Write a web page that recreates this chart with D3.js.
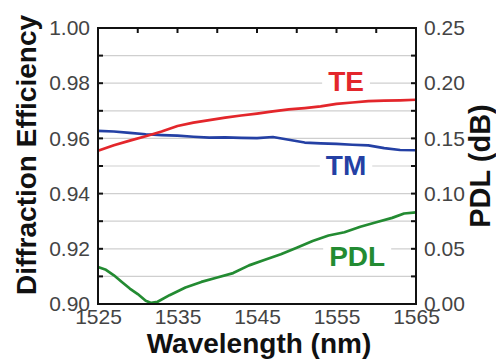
<!DOCTYPE html>
<html>
<head>
<meta charset="utf-8">
<script src="https://cdn.jsdelivr.net/npm/d3@7"></script>
<style>
	body { margin: 0; background: #fff; }
	text { font-family: "Liberation Sans", Arial, sans-serif; }
</style>
</head>
<body>
<svg id="svg_plot" width="496" height="360"></svg>
<script>
// wavelength (nm) and read-off values
const te_wl  = [1525, 1527, 1529, 1531, 1533, 1535, 1537, 1539, 1541, 1543, 1545, 1547, 1549, 1551, 1553, 1555, 1557, 1559, 1561, 1563, 1565];
const te_val = [0.9555, 0.9575, 0.9592, 0.9608, 0.9625, 0.9645, 0.9657, 0.9666, 0.9675, 0.9683, 0.9690, 0.9698, 0.9705, 0.9710, 0.9716, 0.9725, 0.9730, 0.9735, 0.9737, 0.9738, 0.9740];

const tm_wl  = [1525, 1527, 1529, 1531, 1533, 1535, 1537, 1539, 1541, 1543, 1545, 1547, 1549, 1551, 1553, 1555, 1557, 1559, 1561, 1563, 1565];
const tm_val = [0.9627, 0.9625, 0.9620, 0.9615, 0.9612, 0.9610, 0.9606, 0.9603, 0.9604, 0.9602, 0.9601, 0.9605, 0.9595, 0.9585, 0.9582, 0.9580, 0.9577, 0.9575, 0.9565, 0.9558, 0.9557];

const pdl_wl  = [1525, 1526, 1527, 1528, 1529, 1530, 1531, 1531.7, 1532.5, 1534, 1536, 1538, 1540, 1542, 1544, 1546, 1548, 1550, 1552, 1554, 1556, 1558, 1560, 1562, 1563.5, 1565];
const pdl_val = [0.0335, 0.031, 0.026, 0.020, 0.014, 0.009, 0.003, 0.001, 0.002, 0.008, 0.015, 0.020, 0.024, 0.028, 0.035, 0.040, 0.045, 0.051, 0.057, 0.062, 0.065, 0.070, 0.074, 0.078, 0.082, 0.083];

const x_ticks_labelled = [1525, 1535, 1545, 1555, 1565];
const x_ticks_top      = [1530, 1535, 1540, 1545, 1550, 1555, 1560];
const left_ticks  = [0.90, 0.92, 0.94, 0.96, 0.98, 1.00];
const right_ticks = [0.00, 0.05, 0.10, 0.15, 0.20, 0.25];

// series labels: [text, wavelength, efficiency, colour]
const labels = [
	["TE", 1556.2, 0.9773, "#e3262b"],
	["TM", 1556.2, 0.9469, "#2440a4"],
	["PDL", 1557.6, 0.9137, "#238b32"]
];

const margin = {top: 28, right: 80, bottom: 56, left: 98};
const svg = d3.select("#svg_plot");
const width  = 496 - margin.left - margin.right;
const height = 360 - margin.top  - margin.bottom;

const plot = svg.append("g")
	.attr("transform", "translate(" + margin.left + "," + margin.top + ")");

const xscale = d3.scaleLinear().domain([1525, 1565]).range([0, width]);
const yscale = d3.scaleLinear().domain([0.90, 1.00]).range([height, 0]);
const y2scale = d3.scaleLinear().domain([0.00, 0.25]).range([height, 0]);

// grid
plot.append("g")
	.selectAll("line")
	.data(d3.range(0.91, 0.995, 0.01))
	.join("line")
	.attr("x1", 0).attr("x2", width)
	.attr("y1", d => yscale(d)).attr("y2", d => yscale(d))
	.attr("stroke", "#cfcfcf").attr("stroke-width", 1.2);

// series labels with white box cutting the grid
for (let l of labels) {
	let t = plot.append("text")
		.attr("x", xscale(l[1]))
		.attr("y", yscale(l[2]))
		.attr("text-anchor", "middle")
		.attr("font-size", 28)
		.attr("font-weight", "bold")
		.attr("fill", l[3])
		.text(l[0]);
	let bb = t.node().getBBox();
	plot.insert("rect", "text")
		.attr("x", bb.x - 6).attr("y", bb.y + 2)
		.attr("width", bb.width + 12).attr("height", bb.height - 4)
		.attr("fill", "#fff");
}

const line = d3.line().x(d => xscale(d[0]));

function draw_series(wl, val, ys, colour) {
	plot.append("path")
		.datum(d3.zip(wl, val))
		.attr("d", line.y(d => ys(d[1])))
		.attr("fill", "none")
		.attr("stroke", colour)
		.attr("stroke-width", 2.7)
		.attr("stroke-linejoin", "round");
}

draw_series(tm_wl, tm_val, yscale, "#2440a4");
draw_series(te_wl, te_val, yscale, "#e3262b");
draw_series(pdl_wl, pdl_val, y2scale, "#238b32");

// frame
plot.append("rect")
	.attr("width", width).attr("height", height)
	.attr("fill", "none").attr("stroke", "#111").attr("stroke-width", 2);

// left axis
plot.append("g")
	.call(d3.axisLeft(yscale).tickValues(left_ticks).tickFormat(d3.format(".2f")).tickSize(0).tickPadding(8))
	.call(g => g.select(".domain").remove())
	.selectAll("text")
	.attr("font-size", 21).attr("fill", "#444");

plot.append("g")
	.selectAll("line")
	.data(d3.range(0.91, 0.995, 0.01))
	.join("line")
	.attr("x1", 0).attr("x2", 5)
	.attr("y1", d => yscale(d)).attr("y2", d => yscale(d))
	.attr("stroke", "#111").attr("stroke-width", 2);

// right axis
plot.append("g")
	.attr("transform", "translate(" + width + ",0)")
	.call(d3.axisRight(y2scale).tickValues(right_ticks).tickFormat(d3.format(".2f")).tickSize(0).tickPadding(8))
	.call(g => g.select(".domain").remove())
	.selectAll("text")
	.attr("font-size", 21).attr("fill", "#444");

plot.append("g")
	.selectAll("line")
	.data(d3.range(0.025, 0.25, 0.025))
	.join("line")
	.attr("x1", width - 5).attr("x2", width)
	.attr("y1", d => y2scale(d)).attr("y2", d => y2scale(d))
	.attr("stroke", "#111").attr("stroke-width", 2);

// bottom axis
plot.append("g")
	.attr("transform", "translate(0," + height + ")")
	.call(d3.axisBottom(xscale).tickValues(x_ticks_labelled).tickFormat(d3.format("d")).tickSize(0).tickPadding(5))
	.call(g => g.select(".domain").remove())
	.selectAll("text")
	.attr("font-size", 21).attr("fill", "#444");

// top ticks
plot.append("g")
	.selectAll("line")
	.data(x_ticks_top)
	.join("line")
	.attr("x1", d => xscale(d)).attr("x2", d => xscale(d))
	.attr("y1", 0).attr("y2", 5)
	.attr("stroke", "#111").attr("stroke-width", 2);

// axis titles
svg.append("text")
	.attr("x", margin.left + width / 2 + 2)
	.attr("y", 353)
	.attr("text-anchor", "middle")
	.attr("font-size", 28)
	.attr("font-weight", "bold")
	.attr("fill", "#111")
	.text("Wavelength (nm)");

svg.append("text")
	.attr("transform", "translate(36,155) rotate(-90)")
	.attr("text-anchor", "middle")
	.attr("font-size", 28)
	.attr("font-weight", "bold")
	.attr("fill", "#111")
	.text("Diffraction Efficiency");

svg.append("text")
	.attr("transform", "translate(490,166) rotate(-90)")
	.attr("text-anchor", "middle")
	.attr("font-size", 29)
	.attr("font-weight", "bold")
	.attr("fill", "#111")
	.text("PDL (dB)");
</script>
</body>
</html>
